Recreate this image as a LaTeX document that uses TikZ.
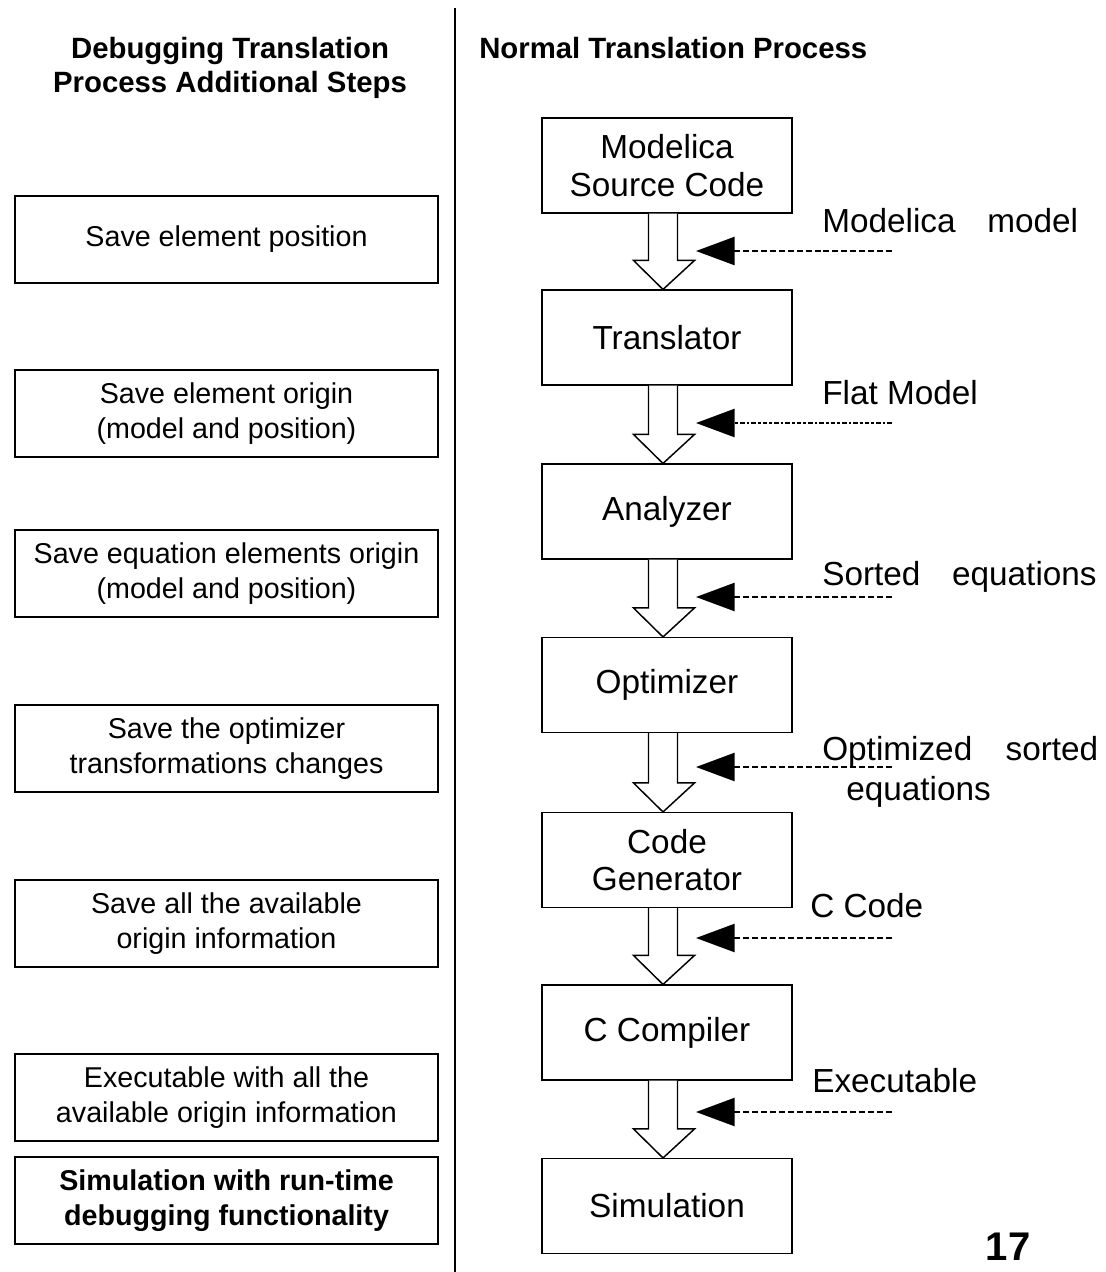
\documentclass[tikz,border=0pt]{standalone}
\usepackage{fontspec}
\setmainfont{Liberation Sans}
\usetikzlibrary{arrows.meta,calc}
\begin{document}
\begin{tikzpicture}[x=0.75pt,y=-0.75pt,
  rbox/.style={draw,line width=1.1pt,minimum width=187.5pt,minimum height=71pt,inner sep=0pt,align=center,font=\fontsize{25}{28}\selectfont},
  lbox/.style={draw,line width=1.1pt,minimum width=317pt,minimum height=65pt,inner sep=0pt,align=center,font=\fontsize{21.5}{26.5}\selectfont},
  lbl/.style={anchor=base west,inner sep=0pt,font=\fontsize{25}{28}\selectfont},
  hdr/.style={inner sep=0pt,font=\fontsize{22}{26}\selectfont\bfseries},
  hollow/.style={draw,line width=1.1pt,fill=white},
  feed/.style={line width=1.9pt,dash pattern=on 4.5pt off 2.2pt,-{Triangle[length=29pt,width=21pt]}},
  feeddot/.style={line width=1.9pt,dash pattern=on 3.5pt off 1.5pt on 2pt off 1.5pt,-{Triangle[length=29pt,width=21pt]}}
]
\useasboundingbox (0,0) rectangle (1106,1272);
% divider
\draw[line width=1.5pt] (455,8) coordinate (dtop) -- (455,1272) coordinate (dbot);
% headers
\node[hdr,align=center] (hl) at (230,68) {Debugging Translation\\Process Additional Steps};
\node[hdr,anchor=base west] (hr) at (479,58) {Normal Translation Process};
% right boxes
\node[rbox] (b1) at (667,165.5) {Modelica\\Source Code};
\node[rbox] (b2) at (667,337.5) {Translator};
\node[rbox] (b3) at (667,511.5) {Analyzer};
\node[rbox] (b4) at (667,685) {Optimizer};
\node[rbox] (b5) at (667,860) {Code\\Generator};
\node[rbox] (b6) at (667,1032.5) {C Compiler};
\node[rbox] (b7) at (667,1206) {Simulation};
% left boxes
\node[lbox] (l1) at (226.5,239.5) {Save element position};
\node[lbox] (l2) at (226.5,413.5) {Save element origin\\(model and position)};
\node[lbox] (l3) at (226.5,573.5) {Save equation elements origin\\(model and position)};
\node[lbox] (l4) at (226.5,748.5) {Save the optimizer\\transformations changes};
\node[lbox] (l5) at (226.5,923.5) {Save all the available\\origin information};
\node[lbox] (l6) at (226.5,1097.5) {Executable with all the\\available origin information};
\node[lbox,font=\fontsize{21.5}{26.5}\selectfont\bfseries] (l7) at (226.5,1200.5) {Simulation with run-time\\debugging functionality};
% hollow arrows
\foreach \a/\b in {b1/b2,b2/b3,b3/b4,b4/b5,b5/b6,b6/b7}{
  \path (\a.south) ++(-4,0) coordinate (s);
  \path (\b.north) ++(-4,0) coordinate (t);
  \draw[hollow] ($(s)+(-14.5,0)$) -- ($(t)+(-14.5,-29)$) -- ($(t)+(-29.5,-29)$) -- (t)
     -- ($(t)+(31.5,-29)$) -- ($(t)+(14.5,-29)$) -- ($(s)+(14.5,0)$);
}
% feed arrows
\coordinate (f1) at (892,251);  \coordinate (g1) at (696,251);
\coordinate (f2) at (892,423);  \coordinate (g2) at (696,423);
\coordinate (f3) at (892,597);  \coordinate (g3) at (696,597);
\coordinate (f4) at (892,767);  \coordinate (g4) at (696,767);
\coordinate (f5) at (892,938);  \coordinate (g5) at (696,938);
\coordinate (f6) at (892,1112); \coordinate (g6) at (696,1112);
\draw[feed] (f1) -- (g1);
\draw[feeddot] (f2) -- (g2);
\draw[feed] (f3) -- (g3);
\draw[feed] (f4) -- (g4);
\draw[feed] (f5) -- (g5);
\draw[feed] (f6) -- (g6);
% labels
\node[lbl] (t1) at (822,232) {Modelica\hspace{0.95em}model};
\node[lbl] (t2) at (822,404) {Flat Model};
\node[lbl] (t3) at (822,585) {Sorted\hspace{0.95em}equations};
\node[lbl] (t4) at (822,760) {Optimized\hspace{1em}sorted};
\node[lbl] (t4b) at (846,800) {equations};
\node[lbl] (t5) at (810,917) {C Code};
\node[lbl] (t6) at (812,1092) {Executable};
\node[anchor=base,inner sep=0pt,font=\fontsize{30}{34}\selectfont\bfseries] (pg) at (1008,1260) {17};
\end{tikzpicture}
\end{document}
